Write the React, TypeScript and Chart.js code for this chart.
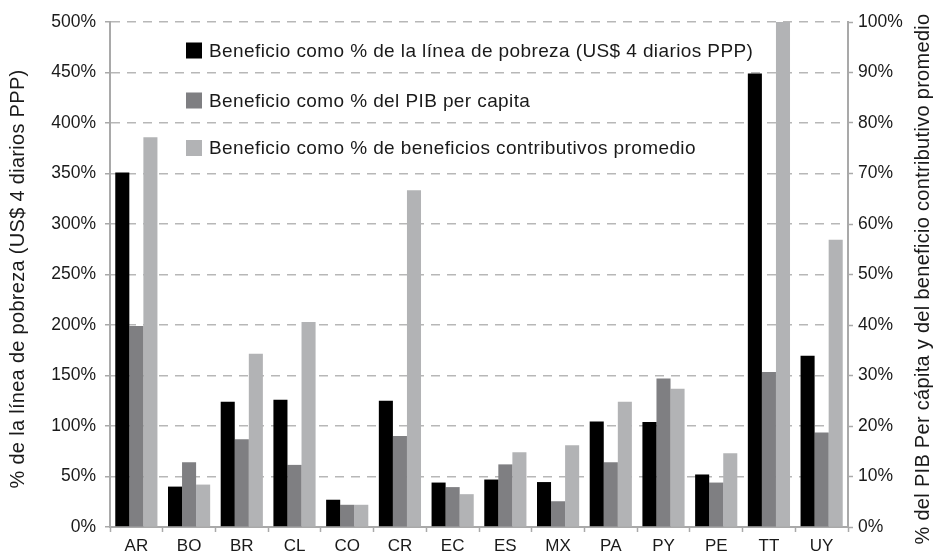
import React, { useEffect, useRef } from "react";
import { Chart, registerables } from "chart.js";

Chart.register(...registerables);

const categories = ["AR", "BO", "BR", "CL", "CO", "CR", "EC", "ES", "MX", "PA", "PY", "PE", "TT", "UY"];
// left axis (% of poverty line)
const povertyLinePct = [351, 40, 124, 126, 27, 125, 44, 47, 44.5, 104.5, 104, 52, 449, 169.5];
// right axis
const gdpPerCapitaPct = [39.8, 12.8, 17.4, 12.3, 4.4, 18.0, 7.9, 12.4, 5.1, 12.8, 29.4, 8.8, 30.7, 18.7];
const contributoryPct = [77.2, 8.4, 34.3, 40.6, 4.4, 66.7, 6.5, 14.8, 16.2, 24.8, 27.4, 14.6, 100, 56.9];

const seriesLabels = [
  "Beneficio como % de la línea de pobreza (US$ 4 diarios PPP)",
  "Beneficio como % del PIB per capita",
  "Beneficio como % de beneficios contributivos promedio",
];
const seriesColors = ["#000000", "#7f7f82", "#b2b3b5"];
const leftTitle = "% de la línea de pobreza (US$ 4 diarios PPP)";
const rightTitle = "% del PIB Per cápita y del beneficio contributivo promedio";

const FONT = "'Liberation Sans', Arial, sans-serif";
const TEXT = "#1a1a1a";
const AXIS = "#a9a9a9";
const GRID = "#b7b7b7";

const overlayPlugin = {
  id: "overlay",
  afterDraw(chart: any) {
    const { ctx, chartArea } = chart;
    ctx.save();
    // legend inside plot
    const rows = [28.5, 78.5, 126];
    ctx.font = `19px ${FONT}`;
    (ctx as any).letterSpacing = "0.4px";
    ctx.textBaseline = "middle";
    ctx.textAlign = "left";
    rows.forEach((dy, i) => {
      const cy = chartArea.top + dy;
      ctx.fillStyle = seriesColors[i];
      ctx.fillRect(chartArea.left + 76, cy - 8, 16, 16);
      ctx.fillStyle = TEXT;
      ctx.fillText(seriesLabels[i], chartArea.left + 99, cy + 1);
    });
    // axis titles
    const cy = 279;
    ctx.font = `20px ${FONT}`;
    (ctx as any).letterSpacing = "0.3px";
    ctx.textAlign = "center";
    ctx.fillStyle = TEXT;
    ctx.save();
    ctx.translate(18, cy);
    ctx.rotate(-Math.PI / 2);
    ctx.fillText(leftTitle, 0, 0);
    ctx.restore();
    ctx.save();
    ctx.translate(923, cy);
    ctx.rotate(-Math.PI / 2);
    ctx.fillText(rightTitle, 0, 0);
    ctx.restore();
    ctx.restore();
  },
};

export default function App() {
  const ref = useRef<HTMLCanvasElement>(null);
  useEffect(() => {
    if (!ref.current) return;
    const chart = new Chart(ref.current, {
      type: "bar",
      data: {
        labels: categories,
        datasets: [
          { label: seriesLabels[0], data: povertyLinePct, backgroundColor: seriesColors[0], yAxisID: "y" },
          { label: seriesLabels[1], data: gdpPerCapitaPct, backgroundColor: seriesColors[1], yAxisID: "y1" },
          { label: seriesLabels[2], data: contributoryPct, backgroundColor: seriesColors[2], yAxisID: "y1" },
        ],
      },
      options: {
        responsive: false,
        animation: false,
        layout: { padding: { top: 22, left: 0, right: 0, bottom: 0 } },
        datasets: { bar: { categoryPercentage: 0.8, barPercentage: 1.0 } },
        plugins: { legend: { display: false }, tooltip: { enabled: false } },
        scales: {
          x: {
            afterFit: (s: any) => { s.height = 29; },
            grid: { drawOnChartArea: false, drawTicks: true, tickLength: 5, color: AXIS, tickColor: AXIS, tickWidth: 1.5, offset: true },
            border: { display: true, color: AXIS, width: 2 },
            ticks: { color: TEXT, font: { family: FONT, size: 17 }, padding: 4 },
          },
          y: {
            position: "left",
            min: 0,
            max: 500,
            afterFit: (s: any) => { s.width = 110; },
            ticks: { stepSize: 50, color: TEXT, font: { family: FONT, size: 17.5 }, padding: 9, callback: (v: any) => `${v}%` },
            grid: { color: GRID, lineWidth: 1.5, tickLength: 5, tickColor: AXIS, tickWidth: 1.5, tickBorderDash: [] },
            border: { display: true, color: AXIS, width: 2, dash: [9, 7] },
          },
          y1: {
            position: "right",
            min: 0,
            max: 100,
            afterFit: (s: any) => { s.width = 85; },
            ticks: { stepSize: 10, color: TEXT, font: { family: FONT, size: 17.5 }, padding: 5, callback: (v: any) => `${v}%` },
            grid: { drawOnChartArea: false, tickLength: 5, tickColor: AXIS, tickWidth: 1.5 },
            border: { display: true, color: AXIS, width: 2 },
          },
        },
      },
      plugins: [overlayPlugin],
    });
    return () => chart.destroy();
  }, []);
  return (
    <div style={{ position: "absolute", left: 0, top: 0, width: 933, height: 556, background: "#fff" }}>
      <canvas ref={ref} width={933} height={556} />
    </div>
  );
}
